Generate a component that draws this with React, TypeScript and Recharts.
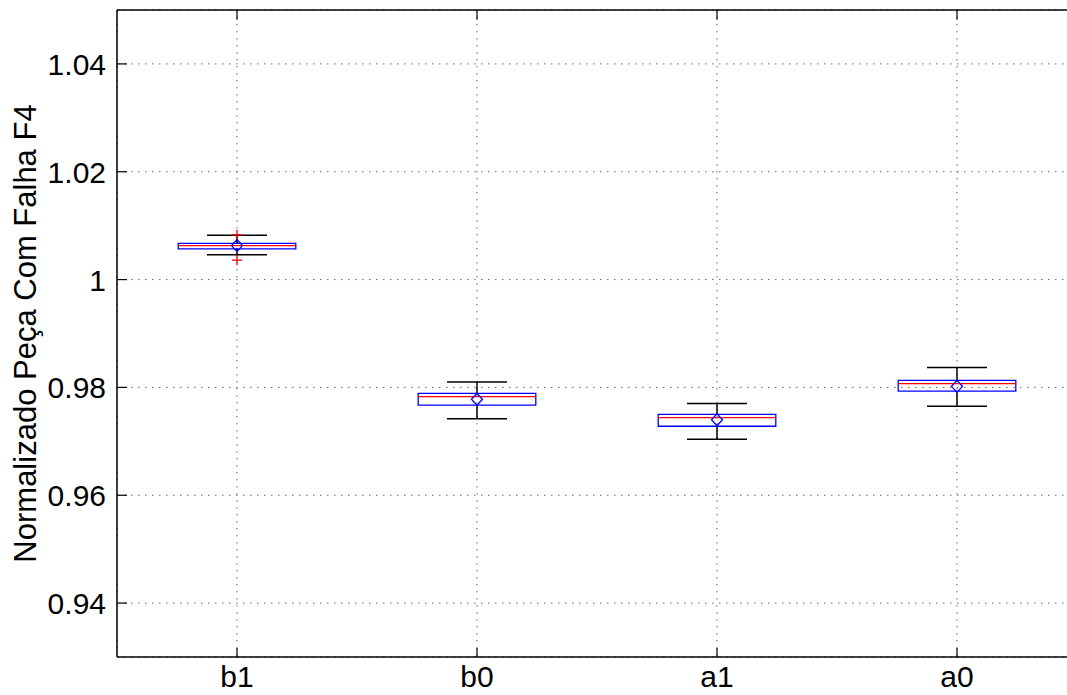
import React from 'react';
import {
  ComposedChart,
  XAxis,
  YAxis,
  CartesianGrid,
  Scatter,
  ReferenceArea,
  ReferenceLine,
} from 'recharts';

// groups and their box statistics
const categories = ['b1', 'b0', 'a1', 'a0'];
const upperWhisker = [1.0082, 0.981, 0.977, 0.9837];
const q3 = [1.0067, 0.9789, 0.975, 0.9813];
const median = [1.0063, 0.9783, 0.9744, 0.9807];
const q1 = [1.0057, 0.9767, 0.9728, 0.9793];
const lowerWhisker = [1.0046, 0.9742, 0.9704, 0.9765];
const means = [1.0063, 0.9778, 0.974, 0.9802];
const outlierGroup = ['b1', 'b1'];
const outlierValue = [1.0083, 1.0036];

const yTicks = [0.94, 0.96, 0.98, 1, 1.02, 1.04];
const yDomain: [number, number] = [0.93, 1.05];

const FONT = '"Liberation Sans", Arial, Helvetica, sans-serif';
const BOX_HALF = 0.245;
const CAP_HALF = 0.125;
const TOP_TICK = 0.0018;

const meanPoints = categories.map((c, i) => ({ x: i + 1, y: means[i] }));
const outlierPoints = outlierGroup.map((g, i) => ({
  x: categories.indexOf(g) + 1,
  y: outlierValue[i],
}));

const YTick = (props: any) => {
  const { x, y, payload } = props;
  const axisX = x + 9;
  return (
    <g>
      <text x={x - 2} y={y + 11} textAnchor="end" fontSize={30} fontFamily={FONT} fill="#000">
        {String(payload.value)}
      </text>
      <line x1={axisX} x2={axisX + 10} y1={y} y2={y} stroke="#000" strokeWidth={1.2} />
    </g>
  );
};

const XTick = (props: any) => {
  const { x, y, payload } = props;
  const axisY = y - 8;
  return (
    <g>
      <text x={x} y={axisY + 30} textAnchor="middle" fontSize={30} fontFamily={FONT} fill="#000">
        {categories[payload.value - 1]}
      </text>
      <line x1={x} x2={x} y1={axisY} y2={axisY - 9} stroke="#000" strokeWidth={1.2} />
    </g>
  );
};

const Diamond = (props: any) => {
  const { cx, cy } = props;
  return (
    <polygon
      points={`${cx},${cy - 6} ${cx + 5.5},${cy} ${cx},${cy + 6} ${cx - 5.5},${cy}`}
      fill="none"
      stroke="#0000ff"
      strokeWidth={1.3}
    />
  );
};

const Plus = (props: any) => {
  const { cx, cy } = props;
  return (
    <g stroke="#ff0000" strokeWidth={1.3}>
      <line x1={cx - 5} x2={cx + 5} y1={cy} y2={cy} />
      <line x1={cx} x2={cx} y1={cy - 5} y2={cy + 5} />
    </g>
  );
};

const YLabel = (props: any) => {
  const { viewBox } = props;
  const cx = 36;
  const cy = viewBox.y + viewBox.height / 2;
  return (
    <text
      x={cx}
      y={cy}
      transform={`rotate(-90, ${cx}, ${cy})`}
      textAnchor="middle"
      fontSize={31}
      fontFamily={FONT}
      fill="#000"
    >
      Normalizado Peça Com Falha F4
    </text>
  );
};

export default function App() {
  return (
    <div style={{ position: 'fixed', left: 0, top: 0, width: 1067, height: 695, overflow: 'hidden', background: '#fff' }}>
      <ComposedChart width={1077} height={695} margin={{ top: 10, right: 0, bottom: 8, left: 0 }}>
        <CartesianGrid stroke="#666" strokeDasharray="1.5 5.5" strokeWidth={1} />
        <XAxis
          dataKey="x"
          type="number"
          domain={[0.5, 4.5]}
          allowDataOverflow
          ticks={[1, 2, 3, 4]}
          height={30}
          tickSize={0}
          tickMargin={8}
          tick={<XTick />}
          axisLine={{ stroke: '#000', strokeWidth: 1.5 }}
          tickLine={false}
        />
        <YAxis
          dataKey="y"
          type="number"
          domain={yDomain}
          allowDataOverflow
          ticks={yTicks}
          width={117}
          tickSize={0}
          tickMargin={9}
          tick={<YTick />}
          axisLine={{ stroke: '#000', strokeWidth: 1.5 }}
          tickLine={false}
          label={<YLabel />}
        />
        <ReferenceLine y={yDomain[1]} stroke="#000" strokeWidth={1.5} ifOverflow="visible" />
        {categories.map((c, i) => (
          <ReferenceLine
            key={`tt-${c}`}
            segment={[
              { x: i + 1, y: yDomain[1] },
              { x: i + 1, y: yDomain[1] - TOP_TICK },
            ]}
            stroke="#000"
            strokeWidth={1.2}
            ifOverflow="visible"
          />
        ))}
        {categories.map((c, i) => (
          <ReferenceLine
            key={`wu-${c}`}
            segment={[
              { x: i + 1, y: q3[i] },
              { x: i + 1, y: upperWhisker[i] },
            ]}
            stroke="#000"
            strokeWidth={1.5}
          />
        ))}
        {categories.map((c, i) => (
          <ReferenceLine
            key={`wl-${c}`}
            segment={[
              { x: i + 1, y: q1[i] },
              { x: i + 1, y: lowerWhisker[i] },
            ]}
            stroke="#000"
            strokeWidth={1.5}
          />
        ))}
        {categories.map((c, i) => (
          <ReferenceLine
            key={`cu-${c}`}
            segment={[
              { x: i + 1 - CAP_HALF, y: upperWhisker[i] },
              { x: i + 1 + CAP_HALF, y: upperWhisker[i] },
            ]}
            stroke="#000"
            strokeWidth={1.5}
          />
        ))}
        {categories.map((c, i) => (
          <ReferenceLine
            key={`cl-${c}`}
            segment={[
              { x: i + 1 - CAP_HALF, y: lowerWhisker[i] },
              { x: i + 1 + CAP_HALF, y: lowerWhisker[i] },
            ]}
            stroke="#000"
            strokeWidth={1.5}
          />
        ))}
        {categories.map((c, i) => (
          <ReferenceArea
            key={`box-${c}`}
            x1={i + 1 - BOX_HALF}
            x2={i + 1 + BOX_HALF}
            y1={q1[i]}
            y2={q3[i]}
            fill="none"
            fillOpacity={0}
            stroke="#0000ff"
            strokeWidth={1.3}
            strokeOpacity={1}
          />
        ))}
        {categories.map((c, i) => (
          <ReferenceLine
            key={`med-${c}`}
            segment={[
              { x: i + 1 - BOX_HALF, y: median[i] },
              { x: i + 1 + BOX_HALF, y: median[i] },
            ]}
            stroke="#ff0000"
            strokeWidth={1.3}
          />
        ))}
        <Scatter data={outlierPoints} dataKey="y" shape={<Plus />} isAnimationActive={false} />
        <Scatter data={meanPoints} dataKey="y" shape={<Diamond />} isAnimationActive={false} />
      </ComposedChart>
    </div>
  );
}
